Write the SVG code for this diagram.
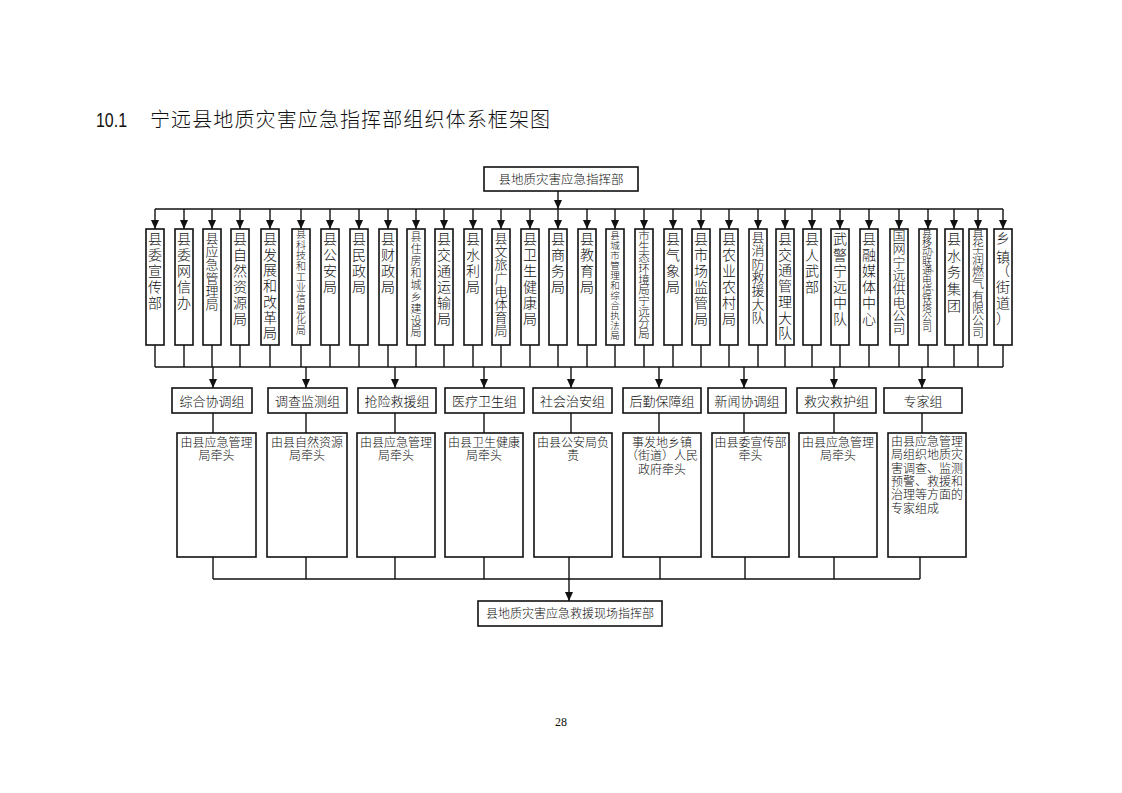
<svg xmlns="http://www.w3.org/2000/svg" width="1122" height="793" viewBox="0 0 1122 793">
<style>
.box{fill:#fff;stroke:#111;stroke-width:1.6}
.ln{stroke:#111;stroke-width:1.4;fill:none}
.ar{stroke:#111;stroke-width:1.4;fill:none;marker-end:url(#ah)}
text{font-family:"Liberation Serif","Noto Sans CJK SC",serif;fill:#111;font-weight:300}
.v{text-anchor:middle;font-size:14px}
.c{text-anchor:middle;font-size:12px}
.g{text-anchor:middle;font-size:13px}
</style>
<defs>
<marker id="ah" markerUnits="userSpaceOnUse" markerWidth="8" markerHeight="9" refX="4" refY="9" orient="0" viewBox="0 0 8 9">
<path d="M0,0 L8,0 L4,9 z" fill="#111"/>
</marker>
</defs>
<rect width="1122" height="793" fill="#fff"/>
<g id="title">
<text x="96" y="127" style="font-family:'Liberation Sans',sans-serif;font-size:21px;font-weight:400" textLength="31" lengthAdjust="spacingAndGlyphs">10.1</text>
<text x="150" y="127" style="font-family:'Noto Sans CJK SC',sans-serif;font-size:20px;font-weight:300" textLength="400">宁远县地质灾害应急指挥部组织体系框架图</text>
</g>
<g id="connectors">
<line class="ar" x1="558" y1="191" x2="558" y2="209"/>
<line class="ln" x1="155" y1="209" x2="1003" y2="209"/>
<path class="ar" d="M155,209V229"/><path class="ar" d="M184,209V229"/><path class="ar" d="M212,209V229"/><path class="ar" d="M240,209V229"/><path class="ar" d="M270,209V229"/><path class="ar" d="M301,209V229"/><path class="ar" d="M330,209V229"/><path class="ar" d="M359,209V229"/><path class="ar" d="M388,209V229"/><path class="ar" d="M416,209V229"/><path class="ar" d="M444,209V229"/><path class="ar" d="M473,209V229"/><path class="ar" d="M501,209V229"/><path class="ar" d="M530,209V229"/><path class="ar" d="M558,209V229"/><path class="ar" d="M587,209V229"/><path class="ar" d="M615,209V229"/><path class="ar" d="M644,209V229"/><path class="ar" d="M673,209V229"/><path class="ar" d="M701,209V229"/><path class="ar" d="M729,209V229"/><path class="ar" d="M758,209V229"/><path class="ar" d="M785,209V229"/><path class="ar" d="M812,209V229"/><path class="ar" d="M840,209V229"/><path class="ar" d="M869,209V229"/><path class="ar" d="M899,209V229"/><path class="ar" d="M928,209V229"/><path class="ar" d="M954,209V229"/><path class="ar" d="M978,209V229"/><path class="ar" d="M1003,209V229"/>
<path class="ln" d="M155,345V367M184,345V367M212,345V367M240,345V367M270,345V367M301,345V367M330,345V367M359,345V367M388,345V367M416,345V367M444,345V367M473,345V367M501,345V367M530,345V367M558,345V367M587,345V367M615,345V367M644,345V367M673,345V367M701,345V367M729,345V367M758,345V367M785,345V367M812,345V367M840,345V367M869,345V367M899,345V367M928,345V367M954,345V367M978,345V367M1003,345V367"/>
<line class="ln" x1="155" y1="367" x2="1003" y2="367"/>
<path class="ar" d="M213,367V388"/><path class="ar" d="M306,367V388"/><path class="ar" d="M395,367V388"/><path class="ar" d="M484,367V388"/><path class="ar" d="M571,367V388"/><path class="ar" d="M659,367V388"/><path class="ar" d="M744,367V388"/><path class="ar" d="M834,367V388"/><path class="ar" d="M922,367V388"/>
<path class="ln" d="M213,413V433M306,413V433M395,413V433M484,413V433M571,413V433M659,413V433M744,413V433M834,413V433M922,413V433"/>
<path class="ln" d="M213,557V579M306,557V579M395,557V579M484,557V579M660,557V579M745,557V579M834,557V579M920,557V579"/>
<line class="ln" x1="213" y1="579" x2="920" y2="579"/>
<path class="ar" d="M569,557V601"/>
</g>
<g id="top">
<rect class="box" x="484" y="167" width="154" height="24"/>
<text x="561" y="184" style="text-anchor:middle;font-size:12.5px">县地质灾害应急指挥部</text>
</g>
<g id="n1"><rect class="box" x="146" y="229" width="18" height="116"/><text class="v" x="155 155 155 155 155" y="244 260 276 292 308">县委宣传部</text></g>
<g id="n2"><rect class="box" x="175" y="229" width="18" height="116"/><text class="v" x="184 184 184 184 184" y="244 260 276 292 308">县委网信办</text></g>
<g id="n3"><rect class="box" x="203" y="229" width="18" height="116"/><text class="v" style="font-size:13px" x="212 212 212 212 212 212" y="243 256.2 269.4 282.6 295.8 309">县应急管理局</text></g>
<g id="n4"><rect class="box" x="231" y="229" width="18" height="116"/><text class="v" x="240 240 240 240 240 240" y="244 260 276 292 308 324">县自然资源局</text></g>
<g id="n5"><rect class="box" x="261" y="229" width="18" height="116"/><text class="v" x="270 270 270 270 270 270 270" y="244 259.7 275.4 291.1 306.8 322.5 338.2">县发展和改革局</text></g>
<g id="n6"><rect class="box" x="292" y="229" width="18" height="116"/><text class="v" style="font-size:10px" x="301 301 301 301 301 301 301 301 301 301" y="237.8 248.5 259.2 269.9 280.6 291.3 302 312.7 323.4 334.1">县科技和工业信息化局</text></g>
<g id="n7"><rect class="box" x="321" y="229" width="18" height="116"/><text class="v" x="330 330 330 330" y="244 260 276 292">县公安局</text></g>
<g id="n8"><rect class="box" x="350" y="229" width="18" height="116"/><text class="v" x="359 359 359 359" y="244 260 276 292">县民政局</text></g>
<g id="n9"><rect class="box" x="379" y="229" width="18" height="116"/><text class="v" x="388 388 388 388" y="244 260 276 292">县财政局</text></g>
<g id="n10"><rect class="box" x="407" y="229" width="18" height="116"/><text class="v" style="font-size:11px" x="416 416 416 416 416 416 416 416 416" y="241.2 253.1 265 276.9 288.8 300.7 312.6 324.5 336.4">县住房和城乡建设局</text></g>
<g id="n11"><rect class="box" x="435" y="229" width="18" height="116"/><text class="v" x="444 444 444 444 444 444" y="244 260 276 292 308 324">县交通运输局</text></g>
<g id="n12"><rect class="box" x="464" y="229" width="18" height="116"/><text class="v" x="473 473 473 473" y="244 260 276 292">县水利局</text></g>
<g id="n13"><rect class="box" x="492" y="229" width="18" height="116"/><text class="v" style="font-size:13px" x="501 501 501 501 501 501 501 501" y="243 256.2 269.4 282.6 295.8 309 322.2 335.4">县文旅广电体育局</text></g>
<g id="n14"><rect class="box" x="521" y="229" width="18" height="116"/><text class="v" x="530 530 530 530 530 530" y="244 260 276 292 308 324">县卫生健康局</text></g>
<g id="n15"><rect class="box" x="549" y="229" width="18" height="116"/><text class="v" x="558 558 558 558" y="244 260 276 292">县商务局</text></g>
<g id="n16"><rect class="box" x="578" y="229" width="18" height="116"/><text class="v" x="587 587 587 587" y="244 260 276 292">县教育局</text></g>
<g id="n17"><rect class="box" x="606" y="229" width="18" height="116"/><text class="v" style="font-size:9.5px" x="615 615 615 615 615 615 615 615 615 615 615" y="238.6 248.6 258.6 268.6 278.6 288.6 298.6 308.6 318.6 328.6 338.6">县城市管理和综合执法局</text></g>
<g id="n18"><rect class="box" x="635" y="229" width="18" height="116"/><text class="v" style="font-size:11.5px" x="644 644 644 644 644 644 644 644 644 644" y="240.4 251.2 262 272.8 283.6 294.4 305.2 316 326.8 337.6">市生态环境局宁远分局</text></g>
<g id="n19"><rect class="box" x="664" y="229" width="18" height="116"/><text class="v" x="673 673 673 673" y="244 260 276 292">县气象局</text></g>
<g id="n20"><rect class="box" x="692" y="229" width="18" height="116"/><text class="v" x="701 701 701 701 701 701" y="244 260 276 292 308 324">县市场监管局</text></g>
<g id="n21"><rect class="box" x="720" y="229" width="18" height="116"/><text class="v" x="729 729 729 729 729 729" y="244 260 276 292 308 324">县农业农村局</text></g>
<g id="n22"><rect class="box" x="749" y="229" width="18" height="116"/><text class="v" style="font-size:13px" x="758 758 758 758 758 758 758" y="242 255.3 268.6 281.9 295.2 308.5 321.8">县消防救援大队</text></g>
<g id="n23"><rect class="box" x="776" y="229" width="18" height="116"/><text class="v" x="785 785 785 785 785 785 785" y="244 259.7 275.4 291.1 306.8 322.5 338.2">县交通管理大队</text></g>
<g id="n24"><rect class="box" x="803" y="229" width="18" height="116"/><text class="v" x="812 812 812 812" y="244 260 276 292">县人武部</text></g>
<g id="n25"><rect class="box" x="831" y="229" width="18" height="116"/><text class="v" x="840 840 840 840 840 840" y="244 260 276 292 308 324">武警宁远中队</text></g>
<g id="n26"><rect class="box" x="860" y="229" width="18" height="116"/><text class="v" x="869 869 869 869 869 869" y="244 260 276 292 308 324">县融媒体中心</text></g>
<g id="n27"><rect class="box" x="890" y="229" width="18" height="116"/><text class="v" style="font-size:13px" x="899 899 899 899 899 899 899 899" y="240 253.3 266.6 279.9 293.2 306.5 319.8 333.1">国网宁远供电公司</text></g>
<g id="n28"><rect class="box" x="919" y="229" width="18" height="116"/><text class="v" style="font-size:10px" x="927 927 927 927 927 927 927 927 927 927 927" y="236.6 246 255.4 264.8 274.2 283.6 293 302.4 311.8 321.2 330.6">县移动联通电信铁塔公司</text><text class="v" style="font-size:8px" x="935 935 935" y="252 271 290">、、、</text></g>
<g id="n29"><rect class="box" x="945" y="229" width="18" height="116"/><text class="v" x="954 954 954 954 954" y="244 260.7 277.4 294.1 310.8">县水务集团</text></g>
<g id="n30"><rect class="box" x="969" y="229" width="18" height="116"/><text class="v" style="font-size:12px" x="978 978 978 978 978 978 978 978 978" y="239.6 251.8 264 276.2 288.4 300.6 312.8 325 337.2">县华润燃气有限公司</text></g>
<g id="n31"><rect class="box" x="994" y="229" width="18" height="116"/><text class="v" x="1003 1003 1003 1003 1003 1003" y="243 262 275 292 308 323">乡镇（街道）</text></g>
<g id="g1"><rect class="box" x="172" y="388" width="80" height="25"/><text class="g" x="212" y="405.5">综合协调组</text></g>
<g id="g2"><rect class="box" x="268" y="388" width="79" height="25"/><text class="g" x="307.5" y="405.5">调查监测组</text></g>
<g id="g3"><rect class="box" x="358" y="388" width="78" height="25"/><text class="g" x="397" y="405.5">抢险救援组</text></g>
<g id="g4"><rect class="box" x="445" y="388" width="79" height="25"/><text class="g" x="484.5" y="405.5">医疗卫生组</text></g>
<g id="g5"><rect class="box" x="533" y="388" width="79" height="25"/><text class="g" x="572.5" y="405.5">社会治安组</text></g>
<g id="g6"><rect class="box" x="623" y="388" width="78" height="25"/><text class="g" x="662" y="405.5">后勤保障组</text></g>
<g id="g7"><rect class="box" x="708" y="388" width="78" height="25"/><text class="g" x="747" y="405.5">新闻协调组</text></g>
<g id="g8"><rect class="box" x="797" y="388" width="79" height="25"/><text class="g" x="836.5" y="405.5">救灾救护组</text></g>
<g id="g9"><rect class="box" x="884" y="388" width="78" height="25"/><text class="g" x="923" y="405.5">专家组</text></g>
<g id="d1"><rect class="box" x="177" y="433" width="79" height="124"/><text class="c" x="216.5" y="447">由县应急管理</text><text class="c" x="216.5" y="460.3">局牵头</text></g>
<g id="d2"><rect class="box" x="267" y="433" width="80" height="124"/><text class="c" x="307" y="447">由县自然资源</text><text class="c" x="307" y="460.3">局牵头</text></g>
<g id="d3"><rect class="box" x="357" y="433" width="78" height="124"/><text class="c" x="396" y="447">由县应急管理</text><text class="c" x="396" y="460.3">局牵头</text></g>
<g id="d4"><rect class="box" x="445" y="433" width="78" height="124"/><text class="c" x="484" y="447">由县卫生健康</text><text class="c" x="484" y="460.3">局牵头</text></g>
<g id="d5"><rect class="box" x="534" y="433" width="78" height="124"/><text class="c" x="573" y="447">由县公安局负</text><text class="c" x="573" y="460.3">责</text></g>
<g id="d6"><rect class="box" x="623" y="433" width="78" height="124"/><text class="c" x="662" y="447">事发地乡镇</text><text class="c" x="662" y="460.3">（街道）人民</text><text class="c" x="662" y="473.6">政府牵头</text></g>
<g id="d7"><rect class="box" x="712" y="433" width="77" height="124"/><text class="c" x="750.5" y="447">由县委宣传部</text><text class="c" x="750.5" y="460.3">牵头</text></g>
<g id="d8"><rect class="box" x="799" y="433" width="78" height="124"/><text class="c" x="838" y="447">由县应急管理</text><text class="c" x="838" y="460.3">局牵头</text></g>
<g id="d9"><rect class="box" x="888" y="433" width="78" height="124"/><text style="font-size:12px" x="891" y="446">由县应急管理</text><text style="font-size:12px" x="891" y="459.3">局组织地质灾</text><text style="font-size:12px" x="891" y="472.6">害调查、监测</text><text style="font-size:12px" x="891" y="485.9">预警、救援和</text><text style="font-size:12px" x="891" y="499.2">治理等方面的</text><text style="font-size:12px" x="891" y="512.5">专家组成</text></g>
<g id="bottom">
<rect class="box" x="478" y="601" width="184" height="25"/>
<text x="570" y="618" style="text-anchor:middle;font-size:12px">县地质灾害应急救援现场指挥部</text>
</g>
<text x="561" y="726" style="text-anchor:middle;font-size:12px;font-weight:400">28</text>
</svg>
